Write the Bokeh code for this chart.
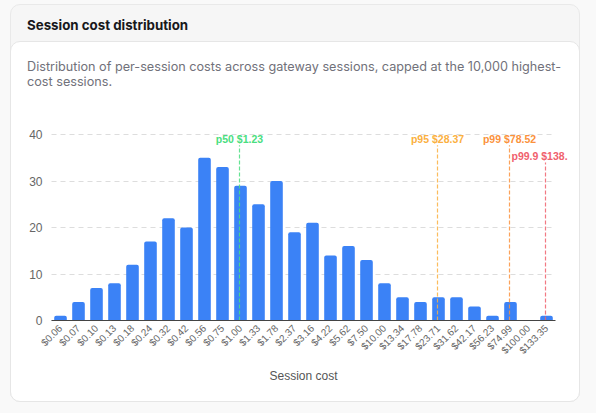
from bokeh.embed import file_html
from bokeh.resources import INLINE
from bokeh.plotting import figure
from bokeh.models import Label, FactorRange, ColumnDataSource, Range1d, FixedTicker, InlineStyleSheet
from bokeh.transform import dodge
from math import pi

TITLE = "Session cost distribution"
DESC_LINES = ["Distribution of per-session costs across gateway sessions, capped at the 10,000 highest-",
              "cost sessions."]
X_TITLE = "Session cost"
categories = ["$0.06","$0.07","$0.10","$0.13","$0.18","$0.24","$0.32","$0.42","$0.56","$0.75","$1.00","$1.33","$1.78","$2.37",
              "$3.16","$4.22","$5.62","$7.50","$10.00","$13.34","$17.78","$23.71","$31.62","$42.17","$56.23","$74.99","$100.00","$133.35"]
counts = [1,4,7,8,12,17,22,20,35,33,29,25,30,19,21,14,16,13,8,5,4,5,5,3,1,4,0,1]
y_ticks = [0,10,20,30,40]
marker_cats = ["$1.00","$23.71","$74.99","$133.35"]
marker_tops = [37.7,37.7,37.7,34.0]
marker_labels = ["p50 $1.23","p95 $28.37","p99 $78.52","p99.9 $138."]
marker_colors = ["#4ade80","#fbb040","#fb923c","#f0616d"]

W, H = 596, 413
card_css = """
:host { background: #f9f9f9; position: relative; isolation: isolate; }
:host::before { content: ""; position: absolute; z-index: -2; left: 10px; top: 4px; width: 568px; height: 396px;
  box-sizing: content-box; background: #f6f6f6; border: 1px solid #e9e9e9; border-radius: 10px; }
:host::after { content: ""; position: absolute; z-index: -1; left: 10px; top: 41px; width: 568px; height: 359px;
  box-sizing: content-box; background: #ffffff; border: 1px solid #e6e6e6; border-radius: 10px; }
"""
PX_PER_CAT = 18
PX_PER_UNIT = 4.65
PAD = 41 / PX_PER_CAT
x_range = FactorRange(factors=categories, range_padding=PAD, range_padding_units="absolute",
                      factor_padding=0, group_padding=0)
p = figure(width=W, height=H, output_backend="svg", toolbar_location=None,
           x_range=x_range,
           y_range=Range1d(-(H-320) / PX_PER_UNIT, 320 / PX_PER_UNIT),
           min_border_left=10, min_border_right=0, min_border_top=0, min_border_bottom=0,
           background_fill_color=None, border_fill_color=None, outline_line_color=None,
           stylesheets=[InlineStyleSheet(css=card_css)])

src = ColumnDataSource(dict(x=categories, top=counts))
p.vbar(x="x", top="top", width=0.7, bottom=0, source=src, fill_color="#3b82f6", line_color=None,
       border_radius=dict(top_left=2, top_right=2, bottom_left=0, bottom_right=0))

msrc = ColumnDataSource(dict(x=marker_cats, y0=[0]*len(marker_cats), y1=marker_tops, color=marker_colors))
nudge = dodge("x", -1 / PX_PER_CAT, range=x_range)
seg = p.segment(x0=nudge, x1=nudge, y0="y0", y1="y1", source=msrc, line_color="color", line_width=1.2, line_alpha=0.85)
seg.glyph.line_dash = [4, 2]

for cat, top, txt, col in zip(marker_cats, marker_tops, marker_labels, marker_colors):
    is_last = txt.startswith("p99.9")
    p.add_layout(Label(x=categories.index(cat)+0.5, y=top, text=txt, text_color=col, level="overlay",
                       text_font="Liberation Sans", text_font_style="bold", text_font_size="10.5px",
                       text_align="left" if is_last else "center", text_baseline="bottom",
                       x_offset=-35 if is_last else -1, y_offset=0))

p.xaxis.fixed_location = 0
p.xaxis.bounds = (0, len(categories))
p.xaxis.major_label_orientation = pi/4
p.xaxis.major_label_text_font = "Liberation Sans"
p.xaxis.major_label_text_font_size = "10px"
p.xaxis.major_label_text_color = "#666666"
p.xaxis.major_tick_line_color = None
p.xaxis.minor_tick_line_color = None
p.xaxis.axis_line_color = "#444444"
p.xaxis.axis_line_width = 1
p.xaxis.major_label_standoff = 0
p.xaxis.axis_label = X_TITLE
p.xaxis.axis_label_text_font = "Liberation Sans"
p.xaxis.axis_label_text_font_style = "normal"
p.xaxis.axis_label_text_font_size = "12px"
p.xaxis.axis_label_text_color = "#555555"
p.xaxis.axis_label_standoff = 6

p.yaxis.fixed_location = 0
p.yaxis.bounds = (0, 40)
p.yaxis.ticker = FixedTicker(ticks=y_ticks)
p.yaxis.major_label_text_font = "Liberation Sans"
p.yaxis.major_label_text_font_size = "12px"
p.yaxis.major_label_text_color = "#666666"
p.yaxis.major_tick_line_color = None
p.yaxis.minor_tick_line_color = None
p.yaxis.axis_line_color = None
p.yaxis.major_label_standoff = 3

p.xgrid.grid_line_color = None
p.ygrid.grid_line_color = "#dddddd"
p.ygrid.grid_line_dash = [5, 4]
p.ygrid.grid_line_width = 1
p.ygrid.cross_bounds = (0, 27.9)

p.add_layout(Label(x=26.5, y=24, x_units="canvas", y_units="canvas", text=TITLE, text_font="Inter", level="overlay",
                   text_font_style="bold", text_font_size="13.3px", text_color="#18181b", text_baseline="middle"))
for yy, line in zip((65.5, 80.5), DESC_LINES):
    p.add_layout(Label(x=26.5, y=yy, x_units="canvas", y_units="canvas", text=line, text_font="Inter", level="overlay",
                       text_font_size="12.67px", text_color="#71717a", text_baseline="middle"))

open("out.html", "w").write(file_html(p, INLINE))
